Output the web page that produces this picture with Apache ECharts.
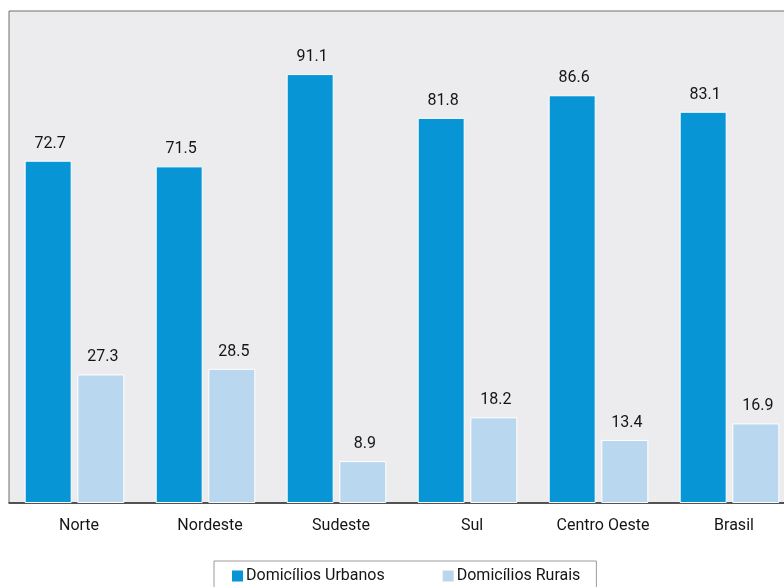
<!DOCTYPE html>
<html>
<head>
<meta charset="utf-8">
<script src="https://cdn.jsdelivr.net/npm/echarts@6/dist/echarts.min.js"></script>
<style>
  html, body { margin: 0; padding: 0; background: #ffffff; overflow: hidden; }
  /* the plot area runs past the right edge of the frame, so the canvas is a bit wider than the window */
  #chart { width: 800px; height: 587px; }
</style>
</head>
<body>
<div id="chart"></div>
<script>
// Regions and household shares (%) by area
const regions = ['Norte', 'Nordeste', 'Sudeste', 'Sul', 'Centro Oeste', 'Brasil'];
const urbanos = [72.7, 71.5, 91.1, 81.8, 86.6, 83.1];
const rurais = [27.3, 28.5, 8.9, 18.2, 13.4, 16.9];
const seriesNames = ['Domicílios Urbanos', 'Domicílios Rurais'];

const FONT = 'Roboto, "Noto Sans", sans-serif';

const chart = echarts.init(document.getElementById('chart'), null, { renderer: 'canvas' });

const labelStyle = {
  show: true,
  position: 'top',
  distance: 9,
  offset: [2, 0],
  color: '#151515',
  fontSize: 16,
  fontFamily: FONT,
  formatter: p => p.value.toFixed(1)
};

chart.setOption({
  backgroundColor: '#ffffff',
  animation: false,
  grid: {
    left: 9,
    top: 11,
    width: 786,
    bottom: 84,
    show: true,
    backgroundColor: '#ececee',
    borderColor: '#6e6e6e',
    borderWidth: 1
  },
  legend: {
    data: seriesNames,
    left: 214,
    top: 561,
    orient: 'horizontal',
    icon: 'rect',
    itemWidth: 13,
    itemHeight: 13,
    itemGap: 56,
    padding: [7, 16, 20, 16],
    borderColor: '#9a9a9a',
    borderWidth: 1,
    textStyle: { fontSize: 16, color: '#151515', fontFamily: FONT, padding: [0, 0, 0, -3] }
  },
  xAxis: {
    type: 'category',
    data: regions,
    axisLine: { show: true, lineStyle: { color: '#333333', width: 1.5 } },
    axisTick: { show: false },
    axisLabel: { color: '#151515', fontSize: 16, fontFamily: FONT, margin: 15, padding: [0, 0, 0, 9] }
  },
  yAxis: {
    type: 'value',
    min: 0,
    max: 104.5,
    show: false,
    splitLine: { show: false }
  },
  series: [
    {
      name: seriesNames[0],
      type: 'bar',
      data: urbanos,
      barWidth: 47,
      barGap: '12%',
      itemStyle: { color: '#0795d6', borderColor: '#ffffff', borderWidth: 1 },
      label: labelStyle
    },
    {
      name: seriesNames[1],
      type: 'bar',
      data: rurais,
      barWidth: 47,
      itemStyle: { color: '#b9d8f0', borderColor: '#ffffff', borderWidth: 1 },
      label: labelStyle
    }
  ]
});
</script>
</body>
</html>
